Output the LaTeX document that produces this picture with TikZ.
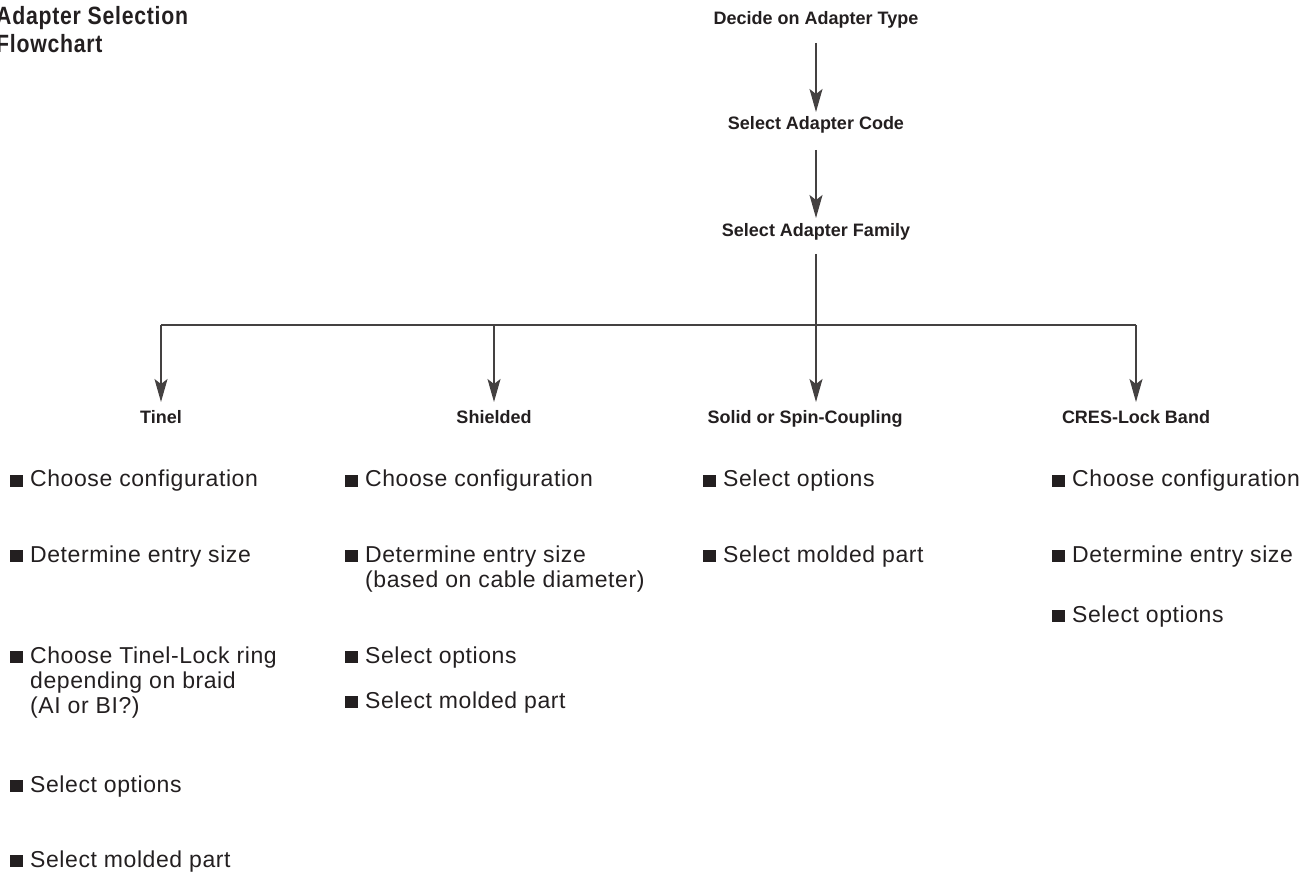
\documentclass[tikz,border=0pt]{standalone}
\usepackage{fontspec}
\setmainfont{Liberation Sans}
\newfontfamily\bodyfont{Liberation Sans}[LetterSpace=2.5]
\newfontfamily\headfont{Liberation Sans}
\newfontfamily\titlefont{Liberation Sans}[FakeStretch=0.85,LetterSpace=3]
\usetikzlibrary{arrows.meta,calc}
\definecolor{ink}{HTML}{231F20}
\newcommand\sqb{\llap{\rule{13pt}{12pt}\hspace{7pt}}}
\newcommand\lines[1]{\begin{tabular}[t]{@{}l@{}}#1\end{tabular}}
\begin{document}
\begin{tikzpicture}[x=1pt,y=-1pt,
  head/.style={font=\headfont\bfseries\fontsize{18}{21}\selectfont, text=ink, inner sep=0pt, anchor=base},
  item/.style={font=\bodyfont\fontsize{23}{25}\selectfont, text=ink, inner sep=0pt, anchor=base west},
  titlestyle/.style={font=\titlefont\bfseries\fontsize{25}{28}\selectfont, text=ink, inner sep=0pt, anchor=base west},
  link/.style={draw=ink!85, line width=1.1pt},
  arr/.style={link, -{Stealth[length=23pt,width=13pt,inset=5pt]}}]
\useasboundingbox (0,0) rectangle (1310,874);

\node[titlestyle] (title) at (-4,25) {\lines{Adapter Selection\\Flowchart}};

\node[head] (dec) at (816,25) {Decide on Adapter Type};
\node[head] (code) at (816,130) {Select Adapter Code};
\node[head] (fam) at (816,237) {Select Adapter Family};
\node[head] (tinel) at (161,424) {Tinel};
\node[head] (shield) at (494,424) {Shielded};
\node[head] (solid) at (805,424) {Solid or Spin-Coupling};
\node[head] (cres) at (1136,424) {CRES-Lock Band};

\draw[arr] ([yshift=-18pt]dec.base) -- ([yshift=18pt]code.base);
\draw[arr] ([yshift=-20pt]code.base) -- ([yshift=19pt]fam.base);
\coordinate (bus) at (816,325);
\draw[arr] ([yshift=-17pt]fam.base) -- ($(fam.base |- solid.base)+(0,-22)$);
\draw[link] (bus -| tinel.base) -- (bus -| cres.base);
\draw[arr] (bus -| tinel.base) -- ($(tinel.base)+(0,-22)$);
\draw[arr] (bus -| shield.base) -- ($(shield.base)+(0,-22)$);
\draw[arr] (bus -| cres.base) -- ($(cres.base)+(0,-22)$);

\node[item] (t1) at (30,487) {\sqb Choose configuration};
\node[item] (t2) at (30,562) {\sqb Determine entry size};
\node[item] (t3) at (30,663) {\sqb\lines{Choose Tinel-Lock ring\\depending on braid\\(AI or BI?)}};
\node[item] (t4) at (30,792) {\sqb Select options};
\node[item] (t5) at (30,867) {\sqb Select molded part};

\node[item] (s1) at (365,487) {\sqb Choose configuration};
\node[item] (s2) at (365,562) {\sqb\lines{Determine entry size\\(based on cable diameter)}};
\node[item] (s3) at (365,663) {\sqb Select options};
\node[item] (s4) at (365,708) {\sqb Select molded part};

\node[item] (p1) at (723,487) {\sqb Select options};
\node[item] (p2) at (723,562) {\sqb Select molded part};

\node[item] (c1) at (1072,487) {\sqb Choose configuration};
\node[item] (c2) at (1072,562) {\sqb Determine entry size};
\node[item] (c3) at (1072,622) {\sqb Select options};
\end{tikzpicture}
\end{document}
